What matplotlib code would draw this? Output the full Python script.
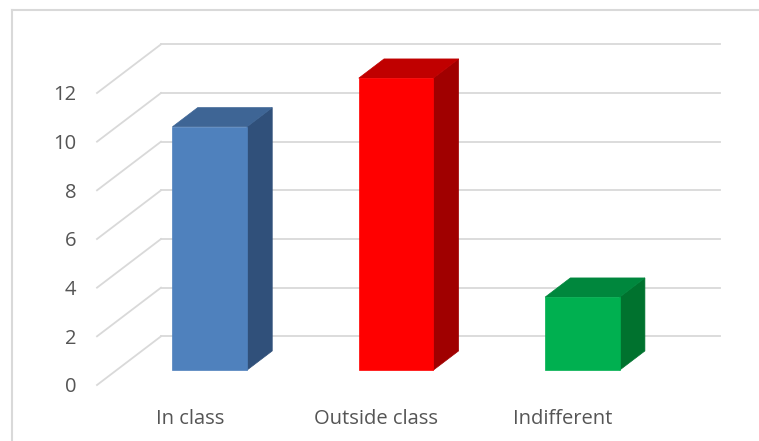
import matplotlib.pyplot as plt
from matplotlib.patches import Polygon
from matplotlib.lines import Line2D

categories = ['In class', 'Outside class', 'Indifferent']
values = [10, 12, 3]
y_ticks = [0, 2, 4, 6, 8, 10, 12]

# front / top / side shades for each column
front_colors = ['#4f81bd', '#ff0000', '#00b050']
top_colors = ['#3e6595', '#c00000', '#00873d']
side_colors = ['#30507a', '#a00000', '#00722e']

text_color = '#555555'
grid_color = '#d9d9d9'

plt.rcParams['font.family'] = ['Open Sans', 'DejaVu Sans']

W, H = 759, 441
fig = plt.figure(figsize=(W / 100, H / 100), dpi=100)

# axes covers the front plane of the 3d box
x0, x1, y0, y1 = 97, 656, 385, 93
ax = fig.add_axes([x0 / W, 1 - y0 / H, (x1 - x0) / W, (y0 - y1) / H])
ax.set_xlim(-0.5, len(categories) - 0.5)
ax.set_ylim(0, 12)
for s in ax.spines.values():
    s.set_visible(False)
ax.patch.set_alpha(0)

# depth offset of the back wall, in data units
DX = 64 / ((x1 - x0) / len(categories))
DY = 2.0

# gridlines: short diagonal on the side wall, then along the back wall
for v in y_ticks:
    ax.plot([-0.5, -0.5 + DX], [v, v + DY], color=grid_color, lw=1.3,
            clip_on=False, zorder=1)
    ax.plot([-0.5 + DX, len(categories) - 0.5 + DX], [v + DY, v + DY],
            color=grid_color, lw=1.3, clip_on=False, zorder=1)

# 3d columns
bw = 0.40
f0, f1 = 0.305, 0.70
for i, v in enumerate(values):
    xl = i - bw / 2 + f0 * DX
    xr = xl + bw
    yb = f0 * DY
    yt = v + f0 * DY
    ddx = (f1 - f0) * DX
    ddy = (f1 - f0) * DY
    side = Polygon([(xr, yb), (xr + ddx, yb + ddy), (xr + ddx, yt + ddy), (xr, yt)],
                   closed=True, facecolor=side_colors[i], edgecolor=side_colors[i],
                   lw=0.5, clip_on=False, zorder=3)
    top = Polygon([(xl, yt), (xl + ddx, yt + ddy), (xr + ddx, yt + ddy), (xr, yt)],
                  closed=True, facecolor=top_colors[i], edgecolor=top_colors[i],
                  lw=0.5, clip_on=False, zorder=3)
    front = Polygon([(xl, yb), (xr, yb), (xr, yt), (xl, yt)],
                    closed=True, facecolor=front_colors[i], edgecolor=front_colors[i],
                    lw=0.5, clip_on=False, zorder=4)
    ax.add_patch(side)
    ax.add_patch(top)
    ax.add_patch(front)

ax.set_yticks(y_ticks)
ax.set_xticks(range(len(categories)))
ax.set_xticklabels(categories)
ax.tick_params(axis='y', length=0, pad=15, labelsize=14.5, labelcolor=text_color)
ax.tick_params(axis='x', length=0, pad=17, labelsize=14.5, labelcolor=text_color)

# chart area border (top and left edges)
fig.add_artist(Line2D([11.5 / W, 1], [1 - 9.5 / H, 1 - 9.5 / H], color=grid_color,
                      lw=1.5, transform=fig.transFigure))
fig.add_artist(Line2D([11.5 / W, 11.5 / W], [0, 1 - 9.5 / H], color=grid_color,
                      lw=1.5, transform=fig.transFigure))

fig.savefig('out.png', dpi=100)
